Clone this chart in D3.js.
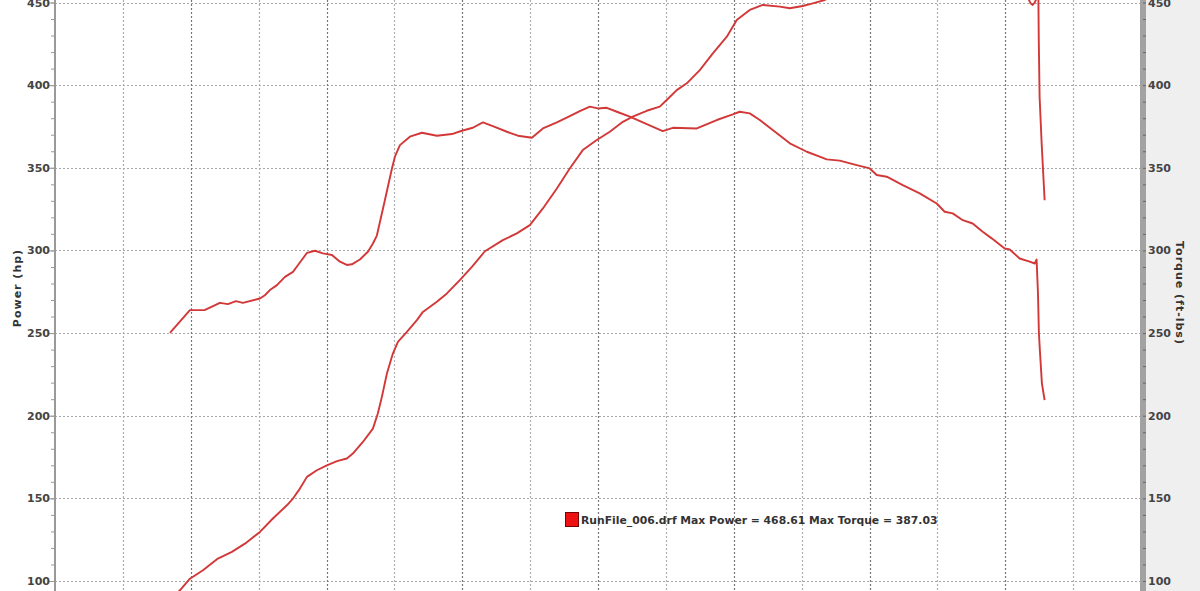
<!DOCTYPE html>
<html>
<head>
<meta charset="utf-8">
<script src="https://cdnjs.cloudflare.com/ajax/libs/d3/7.8.5/d3.min.js"></script>
<style>
  html, body { margin: 0; padding: 0; background: #fff; }
  svg { display: block; font-family: "DejaVu Sans", Verdana, sans-serif; }
</style>
</head>
<body>
<svg id="chart" width="1200" height="591"></svg>
<script>
// data (x = engine rpm)
var torqueRpm = [1847, 1994, 2105, 2215, 2274, 2333, 2384, 2510, 2546, 2583, 2635, 2694, 2753, 2789, 2856, 2915, 2974, 3040, 3099, 3150, 3187, 3246, 3305, 3342, 3371, 3430, 3482, 3504, 3541, 3614, 3703, 3813, 3924, 3997, 4078, 4152, 4225, 4329, 4410, 4513, 4594, 4697, 4792, 4866, 4940, 4999, 5065, 5139, 5234, 5330, 5477, 5551, 5728, 5875, 5993, 6044, 6118, 6192, 6287, 6413, 6538, 6633, 6685, 6781, 6906, 7002, 7053, 7127, 7245, 7370, 7495, 7554, 7613, 7687, 7760, 7834, 7900, 7996, 8033, 8106, 8180, 8217, 8231, 8241, 8248, 8255, 8270, 8290];
var torqueVals = [250.1, 263.9, 264, 268.3, 267.5, 269.3, 268.3, 270.9, 272.9, 276, 279, 284, 287, 291, 298.5, 299.8, 298.2, 297.2, 293.2, 291.2, 291.6, 294.5, 299.2, 304.2, 309, 330.4, 349.6, 356.7, 363.7, 368.8, 371.2, 369.4, 370.4, 372.4, 374.2, 377.5, 375.2, 371.8, 369.4, 368.2, 373.8, 377.5, 381.3, 384.3, 387.03, 385.9, 386.3, 383.9, 380.9, 377.5, 372.2, 374.2, 373.8, 378.9, 382.3, 383.9, 382.9, 378.9, 372.8, 364.8, 359.7, 356.7, 355.1, 354.3, 351.6, 349.6, 345.6, 344.6, 339.5, 334.5, 328.4, 323.4, 322.4, 318.3, 316.3, 311.3, 307.3, 301.2, 300.6, 295.1, 293.2, 292.1, 294.5, 274, 250, 239.7, 219.6, 209.4];

var powerRpm = [1847, 1920, 1994, 2090, 2200, 2303, 2399, 2510, 2605, 2708, 2753, 2804, 2856, 2929, 3003, 3077, 3150, 3194, 3268, 3342, 3378, 3408, 3445, 3489, 3526, 3592, 3666, 3710, 3813, 3887, 3982, 4071, 4167, 4299, 4402, 4498, 4594, 4697, 4792, 4888, 4991, 5087, 5183, 5256, 5359, 5455, 5506, 5580, 5654, 5750, 5846, 5949, 6022, 6118, 6214, 6339, 6413, 6508, 6582, 6670, 6781, 6906, 7002, 7245, 7495, 7687, 7900, 8033, 8121, 8172, 8187, 8202, 8217, 8231, 8244, 8247, 8253, 8268, 8290];
var powerVals = [88, 94.4, 101.4, 106.5, 113.6, 117.6, 122.6, 129.7, 137.8, 145.8, 149.9, 155.9, 163, 167, 170, 172.5, 174.1, 177.1, 184.1, 192.2, 201.3, 211.4, 225.5, 237.6, 244.7, 250.7, 257.8, 262.8, 268.9, 274, 282, 290, 299.5, 306.2, 310.3, 315.3, 325.4, 337.5, 349.6, 360.7, 366.8, 371.8, 377.8, 380.9, 384.5, 387, 391, 397, 401.1, 409.1, 419.2, 429.3, 439.4, 445.5, 448.5, 447.5, 446.5, 447.9, 449.5, 451.5, 456, 461, 464, 467.5, 468.61, 466, 462, 459, 456, 452, 449.5, 448.5, 450, 452.5, 454, 427, 393, 365, 330.4];

var yTicks = [100, 150, 200, 250, 300, 350, 400, 450];
var rpmGrid = [1500, 2000, 2500, 3000, 3500, 4000, 4500, 5000, 5500, 6000, 6500, 7000, 7500, 8000, 8500];
var legendText = "RunFile_006.drf Max Power = 468.61 Max Torque = 387.03";

var svg = d3.select("#chart");
var left = 55, right = 1141;

var x = d3.scaleLinear().domain([1000, 9000]).range([left, right]);
var y = d3.scaleLinear().domain([100, 450]).range([581, 2.5]);

// right hand panel
svg.append("rect").attr("x", 1146).attr("y", 0).attr("width", 54).attr("height", 591).attr("fill", "#efefef");

// grid
var grid = svg.append("g");
grid.selectAll("line.h").data(yTicks).enter().append("line")
  .attr("x1", left).attr("x2", right)
  .attr("y1", function(d){ return Math.round(y(d)) + 0.5; })
  .attr("y2", function(d){ return Math.round(y(d)) + 0.5; })
  .attr("stroke", "#a8a8a8").attr("stroke-width", 1.2).attr("stroke-dasharray", "2,2");
grid.selectAll("line.v").data(rpmGrid).enter().append("line")
  .attr("x1", function(d){ return Math.round(x(d)) + 0.5; })
  .attr("x2", function(d){ return Math.round(x(d)) + 0.5; })
  .attr("y1", 0).attr("y2", 591)
  .attr("stroke", function(d){ return d % 1000 == 0 ? "#777" : "#b0b0b0"; })
  .attr("stroke-width", 1.2).attr("stroke-dasharray", "2,2");

// left axis
var minor = d3.range(100, 451, 10);
var axL = svg.append("g").attr("transform", "translate(" + left + ",0)")
  .call(d3.axisLeft(y).tickValues(minor).tickSize(4).tickFormat(""));
axL.select(".domain").remove();
axL.selectAll("line").attr("stroke", "#999");
svg.append("line").attr("x1", left).attr("x2", left).attr("y1", 0).attr("y2", 591)
  .attr("stroke", "#999").attr("stroke-width", 2);
var axL2 = svg.append("g").attr("transform", "translate(" + left + ",0)")
  .call(d3.axisLeft(y).tickValues(yTicks).tickSize(6).tickPadding(0));
axL2.select(".domain").remove();
axL2.selectAll("line").attr("stroke", "#999");
axL2.selectAll("text").attr("x", -5).attr("fill", "#444").attr("font-size", "11px").attr("font-weight", "bold")
  .attr("font-family", "DejaVu Sans");

// right axis
svg.append("rect").attr("x", 1140).attr("y", 0).attr("width", 6).attr("height", 591).attr("fill", "#a2a2a2");
var axR = svg.append("g").attr("transform", "translate(1146,0)")
  .call(d3.axisLeft(y).tickValues(minor).tickSize(3).tickFormat(""));
axR.select(".domain").remove();
axR.selectAll("line").attr("stroke", "#666");
var axR2 = svg.append("g").attr("transform", "translate(1146,0)")
  .call(d3.axisRight(y).tickValues(yTicks).tickSize(0).tickPadding(2));
axR2.select(".domain").remove();
axR2.selectAll("text").attr("fill", "#444").attr("font-size", "11px").attr("font-weight", "bold")
  .attr("font-family", "DejaVu Sans");

// axis titles
svg.append("text").attr("transform", "translate(21,288) rotate(-90)")
  .attr("text-anchor", "middle").attr("font-size", "11px").attr("font-weight", "bold")
  .attr("letter-spacing", "1px").attr("fill", "#333").text("Power (hp)");
svg.append("text").attr("transform", "translate(1176,293) rotate(90)")
  .attr("text-anchor", "middle").attr("font-size", "11px").attr("font-weight", "bold")
  .attr("letter-spacing", "1px").attr("fill", "#333").text("Torque (ft-lbs)");

// curves
svg.append("clipPath").attr("id", "plot").append("rect")
  .attr("x", left).attr("y", -200).attr("width", right - left).attr("height", 800);

var line = d3.line().x(function(d){ return x(d[0]); }).y(function(d){ return y(d[1]); });
var torque = d3.zip(torqueRpm, torqueVals);
var power = d3.zip(powerRpm, powerVals);

var curves = svg.append("g").attr("clip-path", "url(#plot)");
[torque, power].forEach(function(s){
  curves.append("path").datum(s).attr("d", line)
    .attr("fill", "none").attr("stroke", "#d23838").attr("stroke-width", 1.9)
    .attr("stroke-linejoin", "round");
});

// legend
svg.append("rect").attr("x", 565.5).attr("y", 512.5).attr("width", 13).attr("height", 14)
  .attr("fill", "#ee1111").attr("stroke", "#700");
svg.append("text").attr("x", 581).attr("y", 524).attr("font-size", "10.8px").attr("font-weight", "bold")
  .attr("fill", "#333").text(legendText);
</script>
</body>
</html>
